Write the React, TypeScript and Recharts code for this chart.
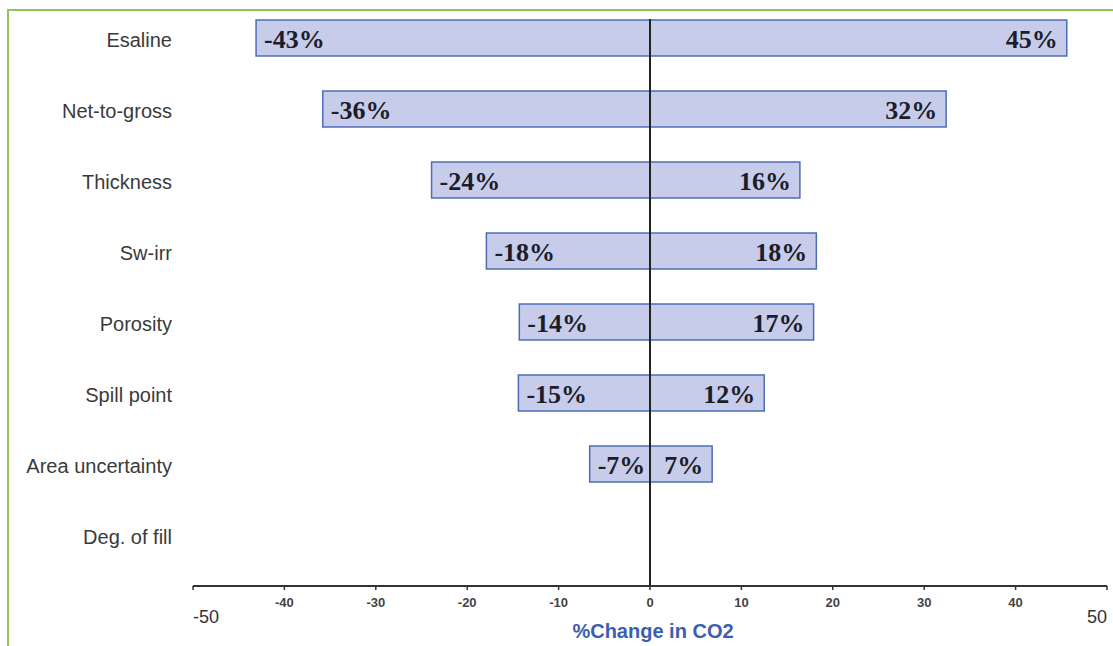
import { BarChart, Bar, XAxis, YAxis, ReferenceLine, LabelList } from 'recharts';

const categories = ['Esaline', 'Net-to-gross', 'Thickness', 'Sw-irr', 'Porosity', 'Spill point', 'Area uncertainty', 'Deg. of fill'];
const lowValues = [-43.1, -35.8, -23.9, -17.9, -14.3, -14.4, -6.6, 0];
const highValues = [45.6, 32.4, 16.4, 18.2, 17.9, 12.5, 6.8, 0];
const lowLabels = ['-43%', '-36%', '-24%', '-18%', '-14%', '-15%', '-7%', ''];
const highLabels = ['45%', '32%', '16%', '18%', '17%', '12%', '7%', ''];
const xTicks = [-50, -40, -30, -20, -10, 0, 10, 20, 30, 40, 50];

const data = categories.map((name, i) => ({ name, low: lowValues[i], high: highValues[i] }));

const BAR_FILL = '#c6cce9';
const BAR_STROKE = '#4d6db8';

const XTick = (props: any) => {
  const { x, y, payload } = props;
  const v = payload.value;
  if (Math.abs(v) === 50) {
    return (
      <text x={x} y={y + 25} textAnchor={v < 0 ? 'start' : 'end'} dominantBaseline="central"
        fontFamily="Liberation Sans, Arial, sans-serif" fontSize={18} fill="#333">
        {v}
      </text>
    );
  }
  return (
    <text x={x} y={y + 10} textAnchor="middle" dominantBaseline="central"
      fontFamily="Liberation Sans, Arial, sans-serif" fontSize={13} fontWeight="bold" fill="#444">
      {v}
    </text>
  );
};

const makeLabel = (labels: string[], side: 'low' | 'high') => (props: any) => {
  const { x, y, width, height, index } = props;
  const text = labels[index];
  if (!text) return null;
  const left = Math.min(x, x + width);
  const right = Math.max(x, x + width);
  return (
    <text x={side === 'low' ? left + 8 : right - 9} y={y + height / 2 + 1} textAnchor={side === 'low' ? 'start' : 'end'}
      dominantBaseline="central" fontFamily="Liberation Serif, 'Times New Roman', serif" fontWeight="bold" fontSize={26} fill="#1c1c2a">
      {text}
    </text>
  );
};

const ZeroLine = (p: any) => {
  const top = Math.min(p.y1, p.y2) + 17;
  const bottom = Math.max(p.y1, p.y2);
  return <line x1={p.x1} x2={p.x2} y1={top} y2={bottom} stroke="#222" strokeWidth={2} />;
};

export default function App() {
  return (
    <div style={{ position: 'relative', width: 1113, height: 646, background: '#fff' }}>
      <style>{'body{margin:0}'}</style>
      <div style={{ position: 'absolute', left: 7, top: 9, right: 0, bottom: 0, borderTop: '2px solid #8fc45a', borderLeft: '2px solid #8fc45a' }} />
      <div style={{ position: 'absolute', left: 0, top: 0 }}>
        <BarChart width={1113} height={646} data={data} layout="vertical" stackOffset="sign"
          margin={{ top: 2, right: 6, left: 0, bottom: 0 }} barSize={36}>
          <XAxis type="number" domain={[-50, 50]} ticks={xTicks} interval={0} height={60}
            axisLine={{ stroke: '#333', strokeWidth: 2 }} tickLine={{ stroke: '#333', strokeWidth: 1.5 }} tickSize={4}
            tick={<XTick />}
            label={{ value: '%Change in CO2', position: 'insideBottom', offset: 8, dx: 3, fill: '#3b5eb0', fontSize: 20, fontWeight: 'bold', fontFamily: 'Liberation Sans, Arial, sans-serif' }} />
          <YAxis type="category" dataKey="name" width={193} axisLine={false} tickLine={false} tickMargin={15}
            padding={{ top: 0, bottom: 16 }}
            tick={{ fill: '#3a3a3a', fontSize: 20, dy: 2, fontFamily: 'Liberation Sans, Arial, sans-serif' }} />
          <Bar dataKey="low" stackId="a" fill={BAR_FILL} stroke={BAR_STROKE} strokeWidth={1.5} isAnimationActive={false}>
            <LabelList dataKey="low" content={makeLabel(lowLabels, 'low')} />
          </Bar>
          <Bar dataKey="high" stackId="a" fill={BAR_FILL} stroke={BAR_STROKE} strokeWidth={1.5} isAnimationActive={false}>
            <LabelList dataKey="high" content={makeLabel(highLabels, 'high')} />
          </Bar>
          <ReferenceLine x={0} shape={ZeroLine} />
        </BarChart>
      </div>
    </div>
  );
}
